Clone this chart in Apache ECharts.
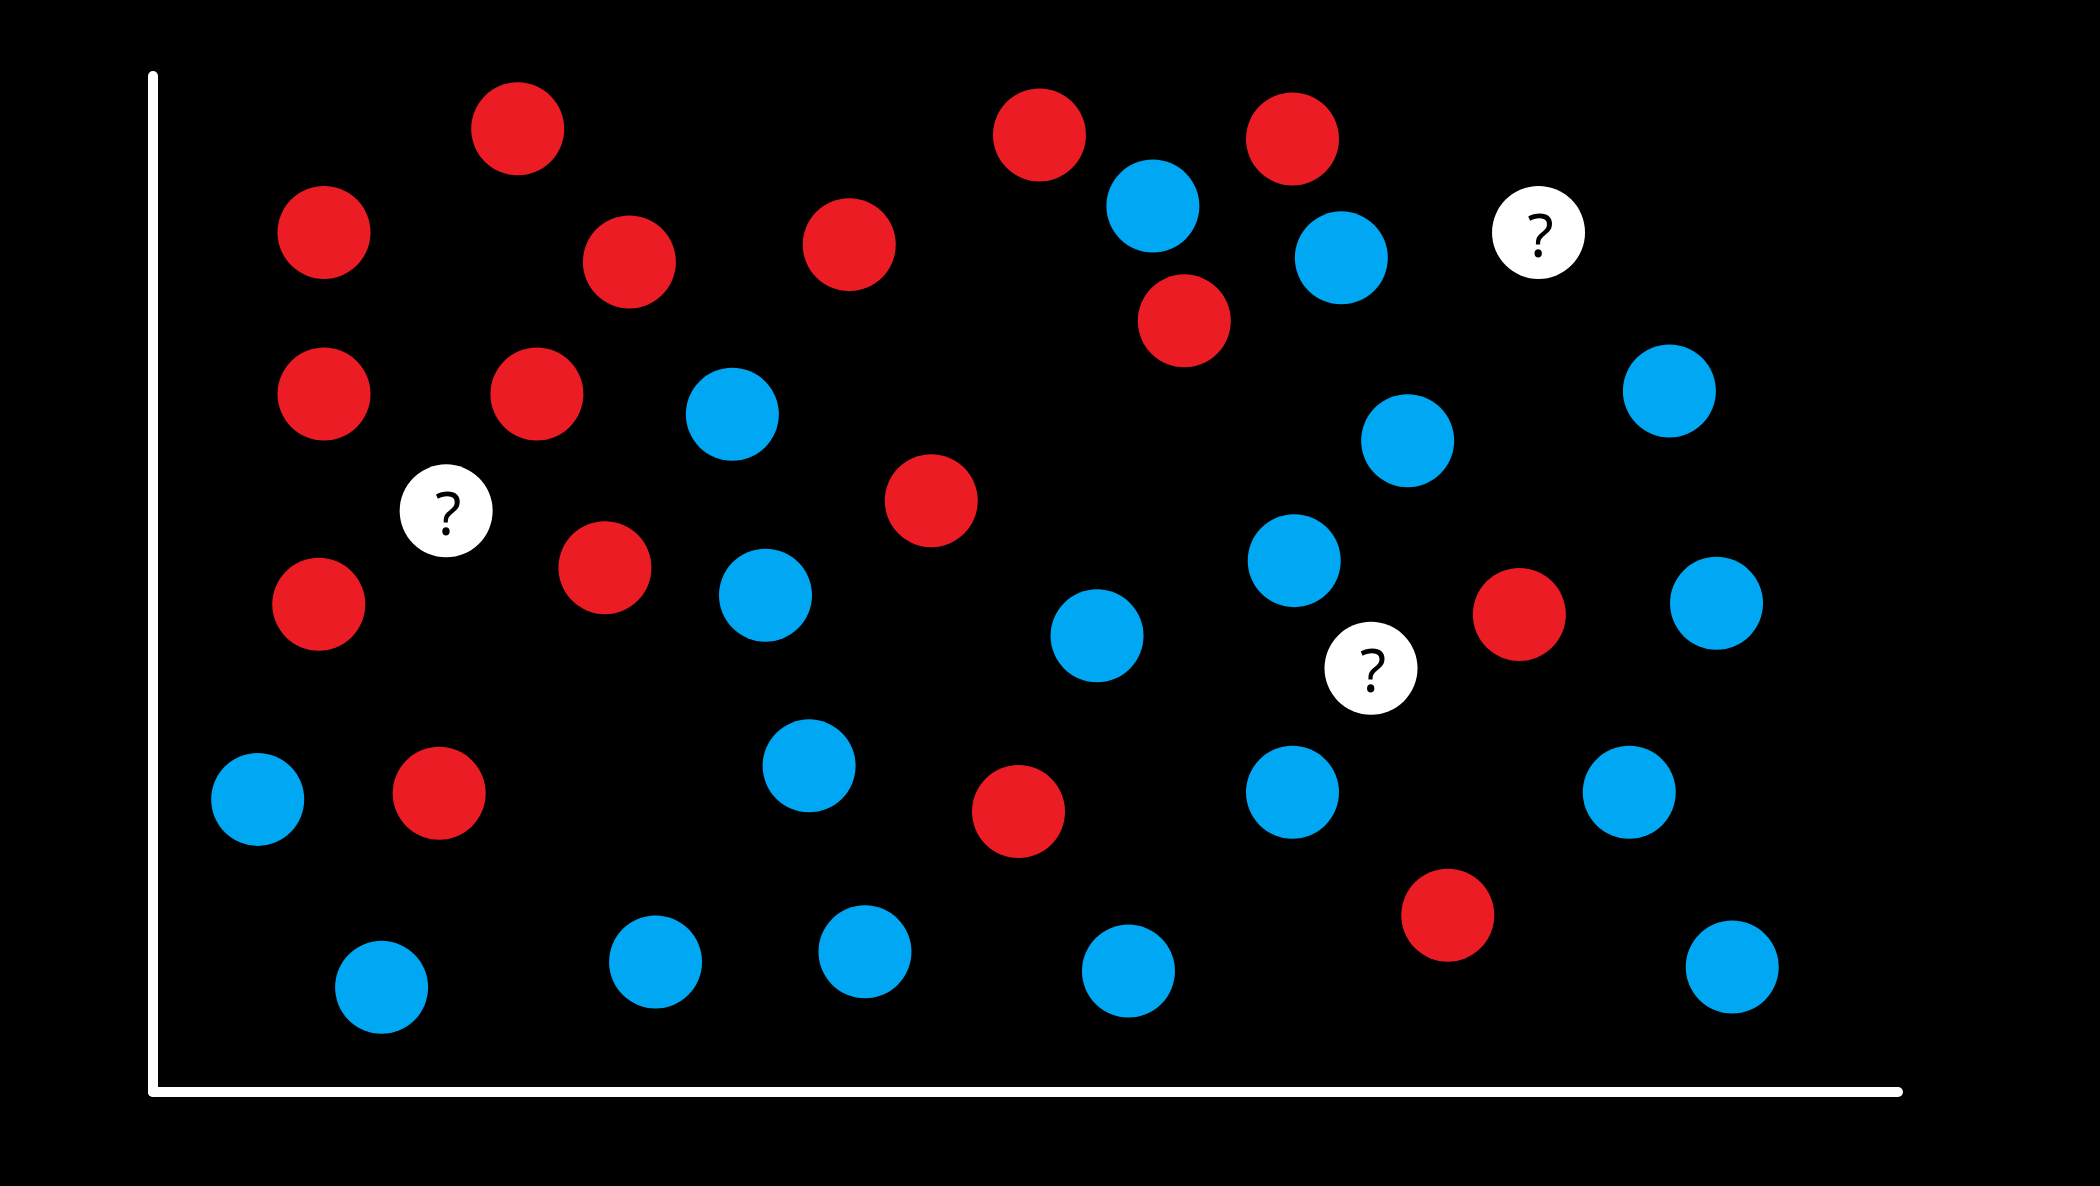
<!DOCTYPE html>
<html>
<head>
<meta charset="utf-8">
<script src="https://cdn.jsdelivr.net/npm/echarts@6/dist/echarts.min.js"></script>
<style>
html,body{margin:0;padding:0;background:#000;}
#chart{width:2100px;height:1186px;}
</style>
</head>
<body>
<div id="chart"></div>
<script>
// Values on a 0-100 scale along each axis (no tick labels in the original)
var redPoints = [
  [20.9, 94.8], [9.8, 84.6], [27.3, 81.7], [39.9, 83.4], [50.8, 94.2],
  [65.3, 93.8], [59.1, 75.9], [9.8, 68.7], [22.0, 68.7], [44.6, 58.2],
  [25.9, 51.6], [9.5, 48.0], [16.4, 29.4], [49.6, 27.6], [78.3, 47.0],
  [74.2, 17.4]
];
var bluePoints = [
  [57.3, 87.2], [68.1, 82.1], [33.2, 66.7], [71.9, 64.1], [86.9, 69.0],
  [65.4, 52.3], [35.1, 48.9], [54.1, 44.9], [89.6, 48.1], [6.0, 28.8],
  [37.6, 32.1], [65.3, 29.5], [84.6, 29.5], [13.1, 10.3], [28.8, 12.8],
  [40.8, 13.8], [55.9, 11.9], [90.5, 12.3]
];
var unknownPoints = [
  [16.8, 57.2], [79.4, 84.6], [69.8, 41.7]
];
var unknownLabel = '?';

var chart = echarts.init(document.getElementById('chart'), null, {renderer: 'canvas'});
var axisCommon = {
  type: 'value', min: 0, max: 100,
  splitLine: {show: false},
  axisTick: {show: false},
  axisLabel: {show: false},
  axisLine: {show: true, lineStyle: {color: '#ffffff', width: 10, cap: 'round'}}
};
chart.setOption({
  backgroundColor: '#000000',
  animation: false,
  grid: {left: 153, right: 202, top: 76, bottom: 94},
  xAxis: Object.assign({}, axisCommon),
  yAxis: Object.assign({}, axisCommon),
  series: [
    {type: 'scatter', name: 'red', data: redPoints, symbolSize: 93,
     itemStyle: {color: '#EC1C24', opacity: 1}},
    {type: 'scatter', name: 'blue', data: bluePoints, symbolSize: 93,
     itemStyle: {color: '#00A8F3', opacity: 1}},
    {type: 'scatter', name: 'unknown', data: unknownPoints, symbolSize: 93,
     itemStyle: {color: '#ffffff', opacity: 1},
     label: {show: true, position: 'inside', formatter: unknownLabel,
             color: '#000000', fontSize: 60, fontFamily: 'Noto Sans', offset: [2, 7]}}
  ]
});
</script>
</body>
</html>
